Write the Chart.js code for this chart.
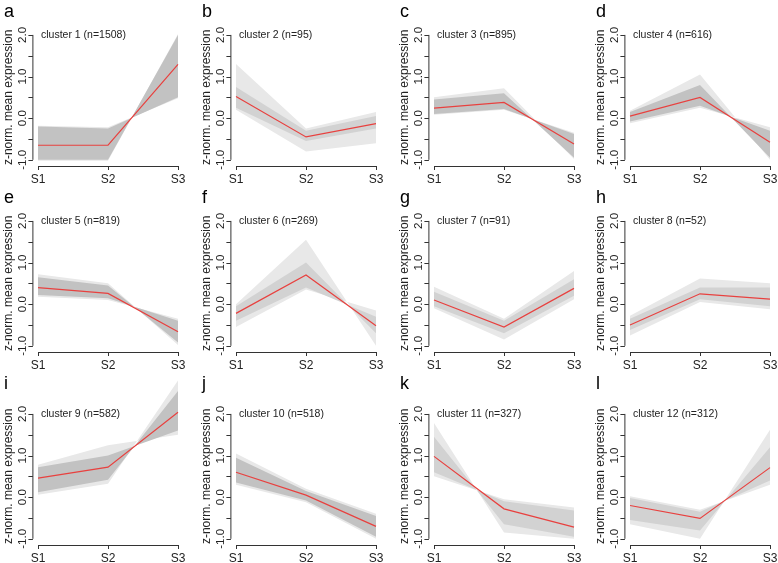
<!DOCTYPE html>
<html>
<head>
<meta charset="utf-8">
<script src="https://cdn.jsdelivr.net/npm/chart.js@4.4.1/dist/chart.umd.min.js"></script>
<style>
  html, body { margin: 0; padding: 0; background: #fff; }
  body { width: 778px; height: 563px; position: relative; overflow: hidden; }
  canvas { position: absolute; }
</style>
</head>
<body>
<script>
// stages on the x axis
const stages = ["S1", "S2", "S3"];
const panelLetters = ["a", "b", "c", "d", "e", "f", "g", "h", "i", "j", "k", "l"];
const clusterSizes = [1508, 95, 895, 616, 819, 269, 91, 52, 582, 518, 327, 312];

// red line: cluster mean profile
const meanProfile = [
    [-0.65, -0.65, 1.29], [0.52, -0.45, -0.13], [0.24, 0.38, -0.62], [0.05, 0.5, -0.58],
    [0.4, 0.26, -0.66], [-0.22, 0.7, -0.52], [0.1, -0.55, 0.38], [-0.5, 0.25, 0.12],
    [0.46, 0.72, 2.04], [0.6, 0.05, -0.7], [0.98, -0.28, -0.72], [-0.2, -0.51, 0.71]
];

// dense grey band of member genes (two edge profiles, filled between)
const coreEdgeA = [
    [-0.2, -0.25, 0.5], [0.75, -0.3, 0.05], [0.45, 0.6, -0.95], [0.15, 0.8, -0.95],
    [0.65, 0.45, -0.92], [-0.05, 1.0, -0.7], [0.3, -0.4, 0.6], [-0.35, 0.4, 0.4],
    [0.72, 1.0, 1.6], [0.95, 0.15, -0.45], [1.45, -0.65, -0.95], [-0.02, -0.35, 0.4]
];
const coreEdgeB = [
    [-1.0, -1.0, 2.0], [0.25, -0.55, -0.25], [0.1, 0.22, -0.38], [-0.08, 0.3, -0.3],
    [0.22, 0.14, -0.4], [-0.4, 0.4, -0.3], [-0.05, -0.7, 0.2], [-0.62, 0.12, -0.05],
    [0.12, 0.42, 2.55], [0.35, -0.08, -0.95], [0.6, -0.1, -0.32], [-0.55, -0.8, 1.2]
];

// faint outer lines of the band
const faintEdgeA = [
    [-0.18, -0.22, 0.48], [1.3, -0.25, 0.15], [0.5, 0.72, -0.98], [0.18, 1.05, -1.0],
    [0.72, 0.5, -0.98], [0.0, 1.55, -1.0], [0.42, -0.35, 0.8], [-0.28, 0.62, 0.5],
    [0.78, 1.25, 1.5], [1.05, 0.2, -0.4], [1.78, -0.85, -1.0], [0.02, -0.3, 0.3]
];
const faintEdgeB = [
    [-1.02, -1.02, 2.02], [0.2, -0.8, -0.6], [0.08, 0.2, -0.35], [-0.12, 0.25, -0.22],
    [0.18, 0.1, -0.35], [-0.55, 0.35, -0.15], [-0.1, -0.85, 0.12], [-0.75, 0.05, -0.12],
    [0.06, 0.32, 2.8], [0.3, -0.12, -1.0], [0.5, -0.05, -0.25], [-0.65, -1.0, 1.62]
];

const yTicks = [-1, -0.5, 0, 0.5, 1, 1.5, 2];
const yLabelTicks = [2, 1, 0, -1];

// layout: x of S1 per column, y of the 2.0 tick per row
const colS1 = [38, 236, 434, 630];
const rowTop2 = [35, 221, 414];
const letterBase = [17, 203, 389];

const FONT = '"Liberation Sans", Arial, Helvetica, sans-serif';
const AXIS = "#333333";

function toPoints(values) {
    return values.map((v, i) => ({ x: i + 1, y: v }));
}

const panelDecor = {
    id: "panelDecor",
    afterDatasetsDraw(chart, args, opts) {
        const ctx = chart.ctx;
        const xs = chart.scales.x;
        const ys = chart.scales.y;
        const left = chart.chartArea.left;
        const bottom = chart.chartArea.bottom;
        ctx.save();
        ctx.strokeStyle = AXIS;
        ctx.fillStyle = "#222";
        ctx.lineWidth = 1;

        // y axis
        ctx.beginPath();
        ctx.moveTo(left + 0.5, ys.getPixelForValue(-1));
        ctx.lineTo(left + 0.5, ys.getPixelForValue(2));
        yTicks.forEach(v => {
            const y = Math.round(ys.getPixelForValue(v)) + 0.5;
            ctx.moveTo(left + 0.5, y);
            ctx.lineTo(left - 4, y);
        });
        ctx.stroke();
        ctx.font = "11.5px " + FONT;
        ctx.textAlign = "center";
        ctx.textBaseline = "middle";
        yLabelTicks.forEach(v => {
            ctx.save();
            ctx.translate(left - 10, ys.getPixelForValue(v));
            ctx.rotate(-Math.PI / 2);
            ctx.fillText(v.toFixed(1), 0, 0);
            ctx.restore();
        });

        // y title
        ctx.save();
        ctx.font = "12px " + FONT;
        ctx.translate(left - 24, ys.getPixelForValue(0.5));
        ctx.rotate(-Math.PI / 2);
        ctx.fillText("z-norm. mean expression", 0, 0);
        ctx.restore();

        // x axis
        ctx.beginPath();
        ctx.moveTo(xs.getPixelForValue(1), bottom + 0.5);
        ctx.lineTo(xs.getPixelForValue(3), bottom + 0.5);
        stages.forEach((s, i) => {
            const x = Math.round(xs.getPixelForValue(i + 1)) + 0.5;
            ctx.moveTo(x, bottom);
            ctx.lineTo(x, bottom + 4);
        });
        ctx.stroke();
        ctx.font = "12px " + FONT;
        stages.forEach((s, i) => {
            ctx.fillText(s, xs.getPixelForValue(i + 1), bottom + 14);
        });

        // cluster label
        ctx.font = "10.5px " + FONT;
        ctx.textAlign = "left";
        ctx.fillText(opts.label, xs.getPixelForValue(1) + 3, ys.getPixelForValue(2));

        // panel letter
        ctx.font = "18px " + FONT;
        ctx.textBaseline = "alphabetic";
        ctx.fillStyle = "#000";
        ctx.fillText(opts.letter, 4, opts.letterY);
        ctx.restore();
    }
};

panelLetters.forEach((letter, p) => {
    const col = p % 4;
    const row = Math.floor(p / 4);
    const canvas = document.createElement("canvas");
    canvas.width = 188;
    canvas.height = 200;
    canvas.style.left = (colS1[col] - 38) + "px";
    const top = rowTop2[row] - 45;
    canvas.style.top = top + "px";
    document.body.appendChild(canvas);

    const dense = clusterSizes[p] >= 500;
    new Chart(canvas.getContext("2d"), {
        type: "line",
        data: {
            datasets: [
                { data: toPoints(meanProfile[p]), borderColor: "#e8413f", borderWidth: 1.2,
                  pointRadius: 0, fill: false, order: 0 },
                { data: toPoints(coreEdgeA[p]), borderWidth: 0, pointRadius: 0, fill: false, order: 1 },
                { data: toPoints(coreEdgeB[p]), borderWidth: 0, pointRadius: 0, fill: "-1",
                  backgroundColor: dense ? "#c2c2c2" : "#d2d2d2", order: 2 },
                { data: toPoints(faintEdgeA[p]), borderWidth: 0, pointRadius: 0, fill: false, order: 3 },
                { data: toPoints(faintEdgeB[p]), borderWidth: 0, pointRadius: 0, fill: "-1",
                  backgroundColor: "#e8e8e8", order: 4 }
            ]
        },
        options: {
            responsive: false,
            animation: false,
            devicePixelRatio: 1,
            layout: { padding: { left: 32.4, right: 4.4, top: 9.6, bottom: 24 } },
            scales: {
                x: { type: "linear", min: 0.92, max: 3.08, display: false },
                y: { type: "linear", min: -1.148, max: 2.848, display: false }
            },
            plugins: {
                legend: { display: false },
                tooltip: { enabled: false },
                filler: { drawTime: "beforeDatasetDraw" },
                panelDecor: {
                    letter: letter,
                    label: "cluster " + (p + 1) + " (n=" + clusterSizes[p] + ")",
                    letterY: letterBase[row] - top
                }
            }
        },
        plugins: [panelDecor]
    });
});
</script>
</body>
</html>
